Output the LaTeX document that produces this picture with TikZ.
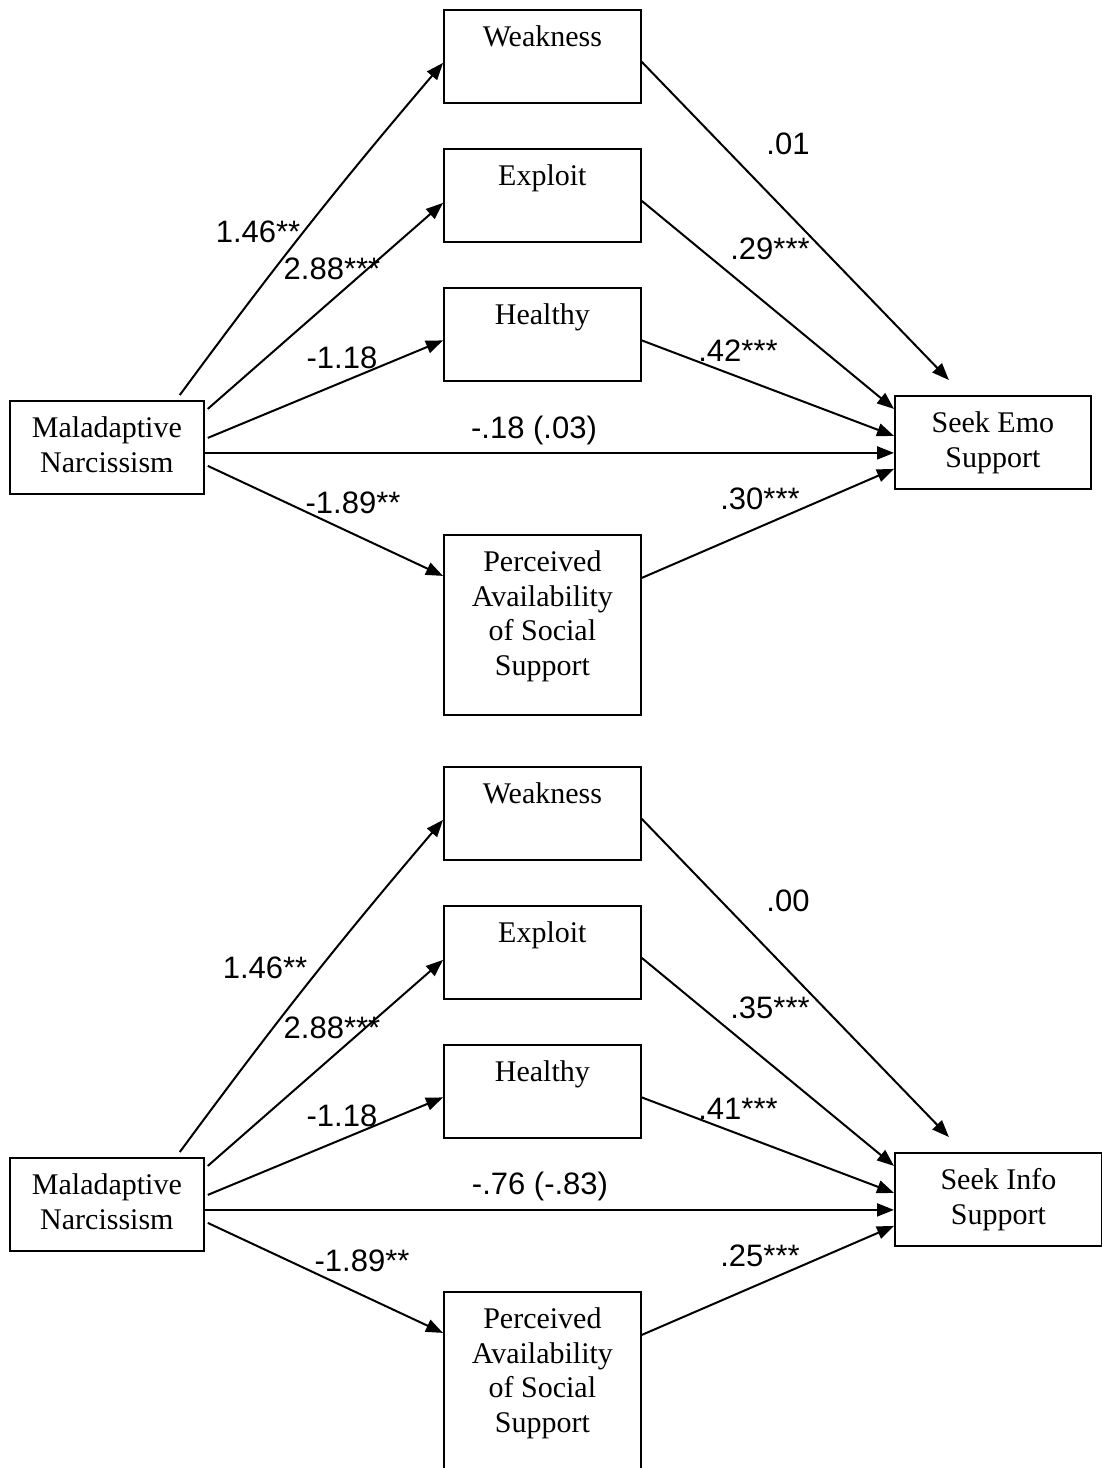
\documentclass[tikz,border=0pt]{standalone}
\usepackage{fontspec}
\setmainfont{Liberation Serif}
\newfontfamily\coeffont{Liberation Sans}
\usetikzlibrary{arrows.meta,calc}
\begin{document}
\begin{tikzpicture}[x=1pt,y=-1pt,
  box/.style={draw, line width=1.8pt, inner sep=0pt, anchor=north west,
    minimum width=197pt, minimum height=93pt},
  tallbox/.style={box, minimum height=180pt},
  inbox/.style={anchor=north, yshift=-16.5pt, inner sep=0pt, align=center,
    font=\fontsize{30}{34.5}\selectfont},
  arr/.style={line width=2pt, -{Triangle[length=17pt,width=13pt]}},
  coef/.style={inner sep=0pt, text height=22pt, text depth=0pt,
    font=\coeffont\fontsize{31}{36}\selectfont}
]
\fill[white] (0,0) rectangle (1102,1468);
\path[use as bounding box] (0,0) rectangle (1102,1468);
\clip (0,0) rectangle (1102,1468);

% ---------- emotional support model ----------
\node[box, label={[inbox]north:Weakness}] (w1) at (443,9) {};
\node[box, label={[inbox]north:Exploit}] (e1) at (443,148) {};
\node[box, label={[inbox]north:Healthy}] (h1) at (443,287) {};
\node[tallbox, label={[inbox]north:Perceived\\Availability\\of Social\\Support}] (p1) at (443,534) {};
\node[box, minimum width=194pt, label={[inbox]north:Maladaptive\\Narcissism}] (m1) at (9,400) {};
\node[box, minimum width=196pt, label={[inbox]north:Seek Emo\\Support}] (s1) at (894,395) {};

\draw[arr] ([xshift=-25pt,yshift=5pt]m1.north east) to[bend left=2] ([yshift=-6.5pt]w1.west);
\draw[arr] ([xshift=3pt,yshift=38.5pt]m1.east) -- ([yshift=-7.5pt]e1.west);
\draw[arr] ([xshift=3pt,yshift=9.5pt]m1.east) -- ([yshift=-6pt]h1.west);
\draw[arr] ([yshift=-5.5pt]m1.east) -- ([yshift=-10.5pt]s1.west);
\draw[arr] ([xshift=3pt,yshift=-18.5pt]m1.east) -- ([yshift=49pt]p1.west);

\draw[arr] ([yshift=-5.5pt]w1.east) -- ([xshift=-44pt,yshift=15pt]s1.north);
\draw[arr] ([yshift=-5.5pt]e1.east) -- ([yshift=33.5pt]s1.west);
\draw[arr] ([yshift=-6pt]h1.east) -- ([yshift=6.5pt]s1.west);
\draw[arr] ([yshift=47pt]p1.east) -- ([yshift=-26.5pt]s1.west);

\node[coef] (c1a) at (258,231) {1.46**};
\node[coef] (c1b) at (332,268) {2.88***};
\node[coef] (c1c) at (342,357) {-1.18};
\node[coef] (c1d) at (534,427) {-.18 (.03)};
\node[coef] (c1e) at (353,502) {-1.89**};
\node[coef] (c1f) at (788,143) {.01};
\node[coef] (c1g) at (770,248) {.29***};
\node[coef] (c1h) at (738,350) {.42***};
\node[coef] (c1i) at (760,498) {.30***};

% ---------- informational support model ----------
\node[box, label={[inbox]north:Weakness}] (w2) at (443,766) {};
\node[box, label={[inbox]north:Exploit}] (e2) at (443,905) {};
\node[box, label={[inbox]north:Healthy}] (h2) at (443,1044) {};
\node[tallbox, label={[inbox]north:Perceived\\Availability\\of Social\\Support}] (p2) at (443,1291) {};
\node[box, minimum width=194pt, label={[inbox]north:Maladaptive\\Narcissism}] (m2) at (9,1157) {};
\node[box, minimum width=207pt, label={[inbox]north:Seek Info\\Support}] (s2) at (894,1152) {};

\draw[arr] ([xshift=-25pt,yshift=5pt]m2.north east) to[bend left=2] ([yshift=-6.5pt]w2.west);
\draw[arr] ([xshift=3pt,yshift=38.5pt]m2.east) -- ([yshift=-7.5pt]e2.west);
\draw[arr] ([xshift=3pt,yshift=9.5pt]m2.east) -- ([yshift=-6pt]h2.west);
\draw[arr] ([yshift=-5.5pt]m2.east) -- ([yshift=-10.5pt]s2.west);
\draw[arr] ([xshift=3pt,yshift=-18.5pt]m2.east) -- ([yshift=49pt]p2.west);

\draw[arr] ([yshift=-5.5pt]w2.east) -- ([xshift=-49.5pt,yshift=15pt]s2.north);
\draw[arr] ([yshift=-5.5pt]e2.east) -- ([yshift=33.5pt]s2.west);
\draw[arr] ([yshift=-6pt]h2.east) -- ([yshift=6.5pt]s2.west);
\draw[arr] ([yshift=47pt]p2.east) -- ([yshift=-26.5pt]s2.west);

\node[coef] (c2a) at (265,967) {1.46**};
\node[coef] (c2b) at (332,1027) {2.88***};
\node[coef] (c2c) at (342,1115) {-1.18};
\node[coef] (c2d) at (540,1183) {-.76 (-.83)};
\node[coef] (c2e) at (362,1260) {-1.89**};
\node[coef] (c2f) at (788,900) {.00};
\node[coef] (c2g) at (770,1007) {.35***};
\node[coef] (c2h) at (738,1108) {.41***};
\node[coef] (c2i) at (760,1255) {.25***};
\end{tikzpicture}
\end{document}
